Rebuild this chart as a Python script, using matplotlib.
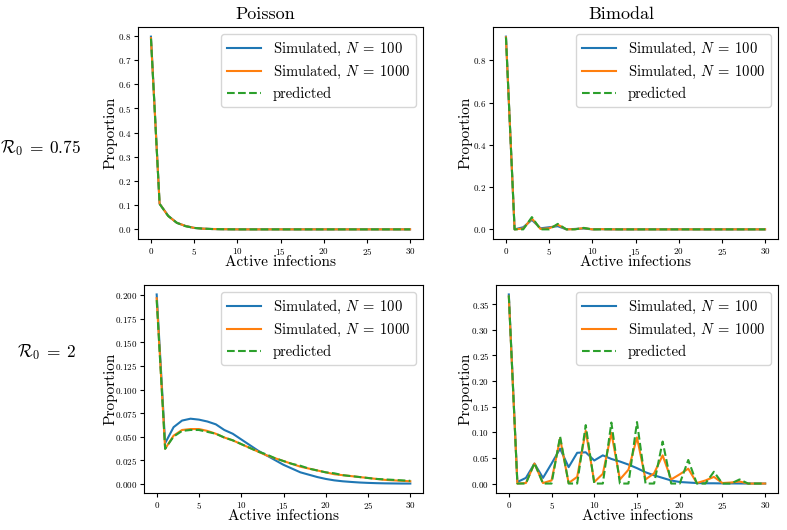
import numpy as np
import matplotlib
matplotlib.use("Agg")
import matplotlib.pyplot as plt

plt.rcParams["font.family"] = "serif"
plt.rcParams["font.serif"] = ["cmr10", "DejaVu Serif"]
plt.rcParams["mathtext.fontset"] = "cm"
plt.rcParams["axes.formatter.use_mathtext"] = True

x = np.arange(31)

# Poisson, R0 = 0.75
pois_low_100 = [0.796, 0.106, 0.056, 0.027, 0.014, 0.006, 0.003, 0.0015, 0.0008, 0.0004] + [0.0] * 21
pois_low_1000 = [0.790, 0.106, 0.055, 0.027, 0.014, 0.006, 0.003, 0.0015, 0.0008, 0.0004] + [0.0] * 21
pois_low_pred = [0.788, 0.105, 0.055, 0.027, 0.013, 0.006, 0.003, 0.0015, 0.0007, 0.0003] + [0.0] * 21

# Bimodal, R0 = 0.75
bim_low_100 = [0.913, 0.0, 0.010, 0.045, 0.005, 0.010, 0.015, 0.0, 0.002, 0.004, 0.0, 0.001] + [0.0] * 19
bim_low_1000 = [0.910, 0.0, 0.004, 0.052, 0.002, 0.005, 0.022, 0.0, 0.001, 0.006, 0.0, 0.001] + [0.0] * 19
bim_low_pred = [0.910, 0.0, 0.0, 0.058, 0.0, 0.0, 0.026, 0.0, 0.0, 0.007, 0.0, 0.0, 0.001] + [0.0] * 18

# Poisson, R0 = 2
pois_high_100 = [0.201, 0.043, 0.060, 0.067, 0.069, 0.068, 0.066, 0.063, 0.057, 0.053,
                 0.047, 0.041, 0.035, 0.030, 0.025, 0.020, 0.016, 0.012, 0.0095, 0.007,
                 0.005, 0.0035, 0.0025, 0.0018, 0.0012, 0.0008, 0.0005, 0.0003, 0.0002, 0.0001, 0.0001]
pois_high_1000 = [0.197, 0.037, 0.051, 0.057, 0.058, 0.058, 0.056, 0.053, 0.049, 0.046,
                  0.042, 0.038, 0.034, 0.030, 0.027, 0.024, 0.021, 0.018, 0.016, 0.014,
                  0.012, 0.010, 0.009, 0.008, 0.007, 0.006, 0.005, 0.004, 0.0035, 0.003, 0.0025]
pois_high_pred = [0.195, 0.037, 0.050, 0.056, 0.057, 0.057, 0.055, 0.053, 0.049, 0.046,
                  0.042, 0.038, 0.034, 0.031, 0.027, 0.024, 0.021, 0.019, 0.016, 0.014,
                  0.012, 0.011, 0.009, 0.008, 0.007, 0.006, 0.005, 0.0045, 0.004, 0.0035, 0.003]

# Bimodal, R0 = 2
bim_high_100 = [0.369, 0.003, 0.011, 0.039, 0.011, 0.039, 0.068, 0.032, 0.060, 0.061,
                0.045, 0.055, 0.048, 0.043, 0.037, 0.030, 0.022, 0.016, 0.011, 0.006,
                0.003, 0.002, 0.001, 0.0005, 0.0005, 0.0003, 0.0002, 0.0001, 0.0, 0.0, 0.0]
bim_high_1000 = [0.365, 0.0, 0.001, 0.039, 0.001, 0.006, 0.088, 0.001, 0.013, 0.103,
                 0.003, 0.019, 0.099, 0.008, 0.027, 0.090, 0.008, 0.020, 0.055, 0.008,
                 0.018, 0.029, 0.001, 0.006, 0.013, 0.001, 0.002, 0.004, 0.0, 0.0, 0.0]
bim_high_pred = [0.367, 0.0, 0.0, 0.040, 0.0, 0.0, 0.092, 0.0, 0.0, 0.114,
                 0.0, 0.0, 0.119, 0.0, 0.0, 0.120, 0.0, 0.0, 0.082, 0.0,
                 0.0, 0.046, 0.0, 0.0, 0.023, 0.0, 0.0, 0.008, 0.0, 0.0, 0.0]

panels = [
    (pois_low_100, pois_low_1000, pois_low_pred),
    (bim_low_100, bim_low_1000, bim_low_pred),
    (pois_high_100, pois_high_1000, pois_high_pred),
    (bim_high_100, bim_high_1000, bim_high_pred),
]

W, H = 787, 530
fig = plt.figure(figsize=(W / 100, H / 100), dpi=100)

# axes boxes in pixels: left, top, right, bottom, ylabel offset
boxes = [(138, 27, 423, 239, 21), (493, 27, 778, 239, 21),
         (144, 285, 423, 493, 27), (496, 285, 778, 493, 24)]

for (l, t, r, b, yoff), (s100, s1000, pred) in zip(boxes, panels):
    ax = fig.add_axes([l / W, 1 - b / H, (r - l) / W, (b - t) / H])
    ax.plot(x, s100, color="tab:blue", label=r"Simulated, $N\:=\:100$")
    ax.plot(x, s1000, color="tab:orange", label=r"Simulated, $N\:=\:1000$")
    ax.plot(x, pred, color="tab:green", linestyle="--", label="predicted")
    ax.set_xlabel("Active infections", fontsize=11)
    ax.set_ylabel("Proportion", fontsize=11)
    ax.xaxis.set_label_coords(0.5, -16.5 / (b - t))
    ax.yaxis.set_label_coords(-yoff / (r - l), 0.5)
    ax.tick_params(labelsize=6.5, length=3, pad=2)
    ax.legend(fontsize=10.5, loc="upper right", handlelength=2.3, labelspacing=0.35)

fig.text(265 / W, 1 - 14 / H, "Poisson", fontsize=13, ha="center", va="center")
fig.text(621 / W, 1 - 14 / H, "Bimodal", fontsize=13, ha="center", va="center")
fig.text(40 / W, 1 - 148 / H, r"$\mathcal{R}_0\:=\:0.75$", fontsize=12.5, ha="center", va="center")
fig.text(46 / W, 1 - 352 / H, r"$\mathcal{R}_0\:=\:2$", fontsize=12.5, ha="center", va="center")

fig.savefig("out.png", dpi=100)
